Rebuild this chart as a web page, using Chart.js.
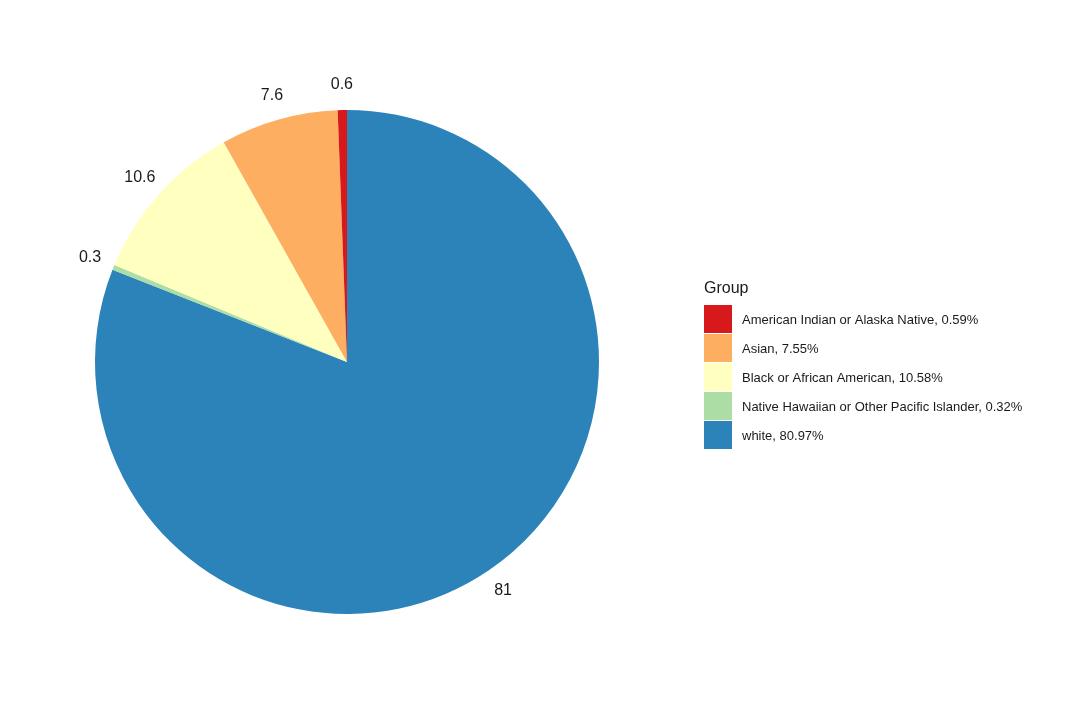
<!DOCTYPE html>
<html><head><meta charset="utf-8">
<script src="https://cdn.jsdelivr.net/npm/chart.js@4"></script>
<style>body{margin:0;background:#fff}</style>
</head><body>
<canvas id="c" width="1072" height="726"></canvas>
<script>
const categories = ["American Indian or Alaska Native","Asian","Black or African American","Native Hawaiian or Other Pacific Islander","white"];
const percents = [0.59, 7.55, 10.58, 0.32, 80.97];
const sliceLabels = ["0.6","7.6","10.6","0.3","81"];
const colors = ["#D7191C","#FDAE61","#FFFFBF","#ABDDA4","#2B83BA"];
// draw counterclockwise from top by reversing order
const idx = [4,3,2,1,0];
const labelPlugin = {
  id:'lbl',
  afterDraw(chart){
    const ctx = chart.ctx, meta = chart.getDatasetMeta(0);
    ctx.save();
    ctx.fillStyle='#1a1a1a'; ctx.font='16px "Liberation Sans", Arial';
    ctx.textAlign='center'; ctx.textBaseline='middle';
    meta.data.forEach((arc,i)=>{
      const a=(arc.startAngle+arc.endAngle)/2, r=arc.outerRadius*1.1;
      ctx.fillText(sliceLabels[idx[i]], arc.x+Math.cos(a)*r, arc.y+Math.sin(a)*r);
    });
    // legend
    ctx.textAlign='left';
    ctx.font='16px "Liberation Sans", Arial';
    ctx.fillText('Group',704,289);
    ctx.font='13px "Liberation Sans", Arial';
    categories.forEach((c,i)=>{
      const y=305+i*29;
      ctx.fillStyle=colors[i]; ctx.fillRect(704,y,28,28);
      ctx.fillStyle='#1a1a1a';
      ctx.fillText(c+', '+percents[i].toFixed(2)+'%',742,y+15);
    });
    ctx.restore();
  }
};
new Chart(document.getElementById('c'),{
  type:'pie',
  data:{labels:idx.map(i=>categories[i]),datasets:[{data:idx.map(i=>percents[i]),backgroundColor:idx.map(i=>colors[i]),borderWidth:0}]},
  options:{responsive:false,animation:false,
    layout:{padding:{left:95,top:110,right:473,bottom:112}},
    plugins:{legend:{display:false},tooltip:{enabled:false}}},
  plugins:[labelPlugin]
});
</script>
</body></html>
